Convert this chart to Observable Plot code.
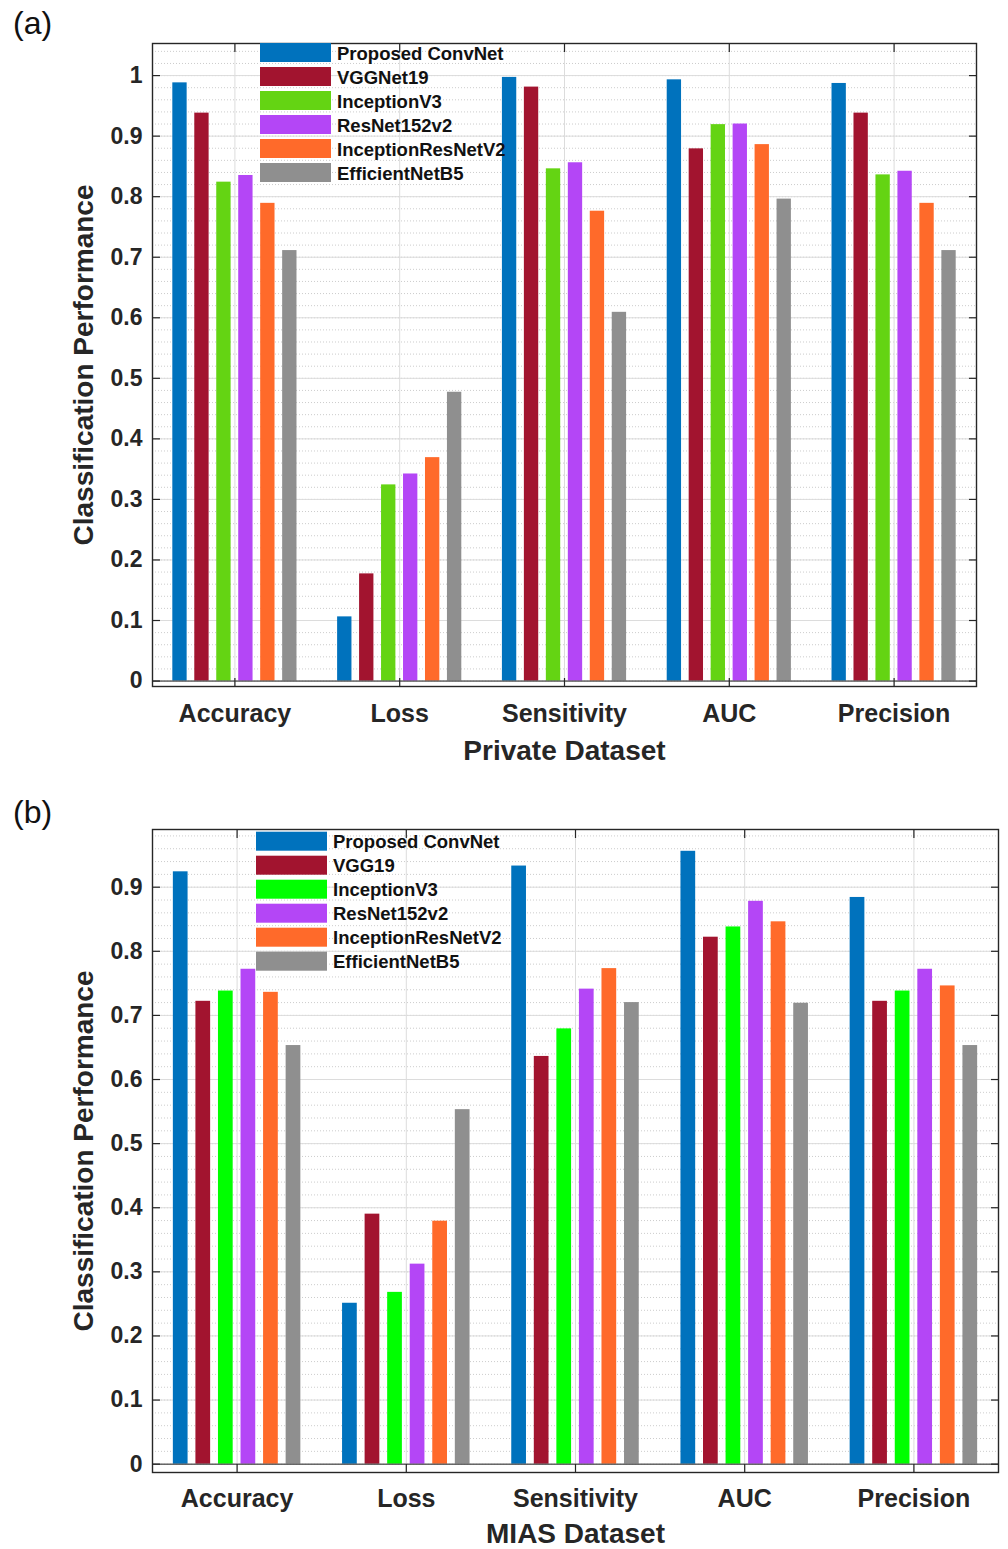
<!DOCTYPE html>
<html>
<head>
<meta charset="utf-8">
<script src="https://cdn.jsdelivr.net/npm/d3@7"></script>
<script src="https://cdn.jsdelivr.net/npm/@observablehq/plot@0.6"></script>
<style>
html, body { margin: 0; padding: 0; background: #fff; }
#wrap { position: relative; width: 1008px; height: 1549px; overflow: hidden; background: #fff; }
#wrap svg { position: absolute; left: 0; }
</style>
</head>
<body>
<div id="wrap"></div>
<script>
// ---------- data ----------
const metrics = ["Accuracy", "Loss", "Sensitivity", "AUC", "Precision"];

const modelsPrivate = ["Proposed ConvNet", "VGGNet19", "InceptionV3", "ResNet152v2", "InceptionResNetV2", "EfficientNetB5"];
const modelsMIAS = ["Proposed ConvNet", "VGG19", "InceptionV3", "ResNet152v2", "InceptionResNetV2", "EfficientNetB5"];

const colorsPrivate = ["#0072BD", "#A2142F", "#64D413", "#B446F6", "#FF6A2A", "#8F8F8F"];
const colorsMIAS = ["#0072BD", "#A2142F", "#00FF00", "#B446F6", "#FF6A2A", "#8F8F8F"];

// Private dataset (values in metric order: Accuracy, Loss, Sensitivity, AUC, Precision)
const privProposed  = [0.988, 0.106, 0.997, 0.993, 0.987];
const privVGG       = [0.938, 0.177, 0.981, 0.879, 0.938];
const privInception = [0.824, 0.324, 0.846, 0.919, 0.836];
const privResNet    = [0.835, 0.342, 0.856, 0.920, 0.842];
const privIncRes    = [0.789, 0.369, 0.776, 0.886, 0.789];
const privEff       = [0.711, 0.477, 0.609, 0.796, 0.711];

// MIAS dataset
const miasProposed  = [0.924, 0.251, 0.933, 0.956, 0.884];
const miasVGG       = [0.722, 0.390, 0.636, 0.822, 0.722];
const miasInception = [0.738, 0.268, 0.679, 0.838, 0.738];
const miasResNet    = [0.772, 0.312, 0.741, 0.878, 0.772];
const miasIncRes    = [0.736, 0.379, 0.773, 0.846, 0.746];
const miasEff       = [0.653, 0.553, 0.720, 0.719, 0.653];

// tick labels
const yTicksPrivate = [0, 0.1, 0.2, 0.3, 0.4, 0.5, 0.6, 0.7, 0.8, 0.9, 1];
const yTicksMIAS = [0, 0.1, 0.2, 0.3, 0.4, 0.5, 0.6, 0.7, 0.8, 0.9];

// ---------- drawing ----------
const FONT = "'Liberation Sans', Arial, Helvetica, sans-serif";
const INK = "#262626";
const fmtY = d => d === 0 ? "0" : d === 1 ? "1" : d.toFixed(1);

function makeChart(cfg) {
  const n = cfg.models.length;
  const rows = [];
  cfg.models.forEach((m, j) => cfg.series[j].forEach((v, i) => rows.push({metric: metrics[i], mi: i, model: m, j, value: v})));
  const step = 0.1333, bw = 0.087;
  const pos = metrics.map((m, i) => i + 1);
  const minor = d3.range(0, cfg.yDomain[1], 0.02);

  const svg = Plot.plot({
    width: 1008,
    height: cfg.height,
    marginLeft: 152,
    marginRight: cfg.marginRight,
    marginTop: cfg.marginTop,
    marginBottom: cfg.marginBottom,
    style: {fontFamily: FONT, fontWeight: "bold", color: INK, background: "white", overflow: "visible"},
    x: {domain: [0.5, metrics.length + 0.5], axis: null},
    y: {domain: cfg.yDomain, axis: null},
    color: {domain: cfg.models, range: cfg.colors},
    marks: [
      Plot.ruleY(minor, {stroke: "#bfbfbf", strokeWidth: 0.8, strokeDasharray: "1,2"}),
      Plot.ruleY(cfg.yTicks, {stroke: "#dcdcdc", strokeWidth: 1}),
      Plot.ruleX(pos, {stroke: "#dcdcdc", strokeWidth: 1}),
      Plot.rectY(rows, {
        x1: d => d.mi + 1 + (d.j - (n - 1) / 2) * step - bw / 2,
        x2: d => d.mi + 1 + (d.j - (n - 1) / 2) * step + bw / 2,
        y1: 0,
        y2: "value",
        fill: "model"
      }),
      Plot.ruleY([0], {stroke: INK, strokeWidth: 1}),
      Plot.frame({stroke: INK, strokeWidth: 1.4}),
      // inward ticks
      Plot.axisY(cfg.yTicks, {anchor: "left", tickSize: 8, dx: 8, tickFormat: () => "", label: null, strokeWidth: 1.2}),
      Plot.axisY(cfg.yTicks, {anchor: "right", tickSize: 8, dx: -8, tickFormat: () => "", label: null, strokeWidth: 1.2}),
      Plot.axisX(pos, {anchor: "bottom", tickSize: 8, dy: -8, tickFormat: () => "", label: null, strokeWidth: 1.2}),
      Plot.axisX(pos, {anchor: "top", tickSize: 8, dy: 8, tickFormat: () => "", label: null, strokeWidth: 1.2}),
      // tick labels
      Plot.axisY(cfg.yTicks, {anchor: "left", tickSize: 0, tickPadding: 10, tickFormat: fmtY, label: null, fontSize: 23, fontWeight: "bold"}),
      Plot.axisX(pos, {anchor: "bottom", tickSize: 0, tickPadding: cfg.xPad, tickFormat: i => metrics[i - 1], label: null, fontSize: 25, fontWeight: "bold"}),
      // titles
      Plot.text(["Classification Performance"], {frameAnchor: "left", textAnchor: "middle", rotate: -90, dx: -68, text: d => d, fontSize: 28, fontWeight: "bold", fill: INK}),
      Plot.text([cfg.xTitle], {frameAnchor: "bottom", textAnchor: "middle", lineAnchor: "top", dy: cfg.titleDy, text: d => d, fontSize: 28, fontWeight: "bold", fill: INK})
    ]
  });

  const s = d3.select(svg);
  s.style("top", cfg.top + "px");
  // legend (transparent, inside the axes)
  const g = s.append("g").attr("transform", `translate(${cfg.legendX},${cfg.legendY})`);
  cfg.models.forEach((m, j) => {
    g.append("rect").attr("x", 0).attr("y", j * 24).attr("width", 71).attr("height", 19).attr("fill", cfg.colors[j]);
    g.append("text").attr("x", 77).attr("y", j * 24 + cfg.legendBase)
      .attr("text-anchor", "start")
      .attr("font-size", 18.5).attr("font-weight", "bold").attr("font-family", FONT).attr("fill", "#111")
      .text(m);
  });
  // panel label
  s.append("text").attr("x", 13).attr("y", cfg.panelY).attr("text-anchor", "start")
    .attr("font-size", 32).attr("font-weight", "normal")
    .attr("font-family", FONT).attr("fill", "#111").text(cfg.panel);
  return svg;
}

const wrap = document.getElementById("wrap");
wrap.appendChild(makeChart({
  models: modelsPrivate, colors: colorsPrivate,
  series: [privProposed, privVGG, privInception, privResNet, privIncRes, privEff],
  yTicks: yTicksPrivate, yDomain: [-0.009, 1.053],
  height: 775, top: 0, marginTop: 43, marginBottom: 89, marginRight: 32,
  xPad: 18, titleDy: 54, xTitle: "Private Dataset",
  legendX: 260, legendY: 43, legendBase: 16.5, panel: "(a)", panelY: 34
}));
wrap.appendChild(makeChart({
  models: modelsMIAS, colors: colorsMIAS,
  series: [miasProposed, miasVGG, miasInception, miasResNet, miasIncRes, miasEff],
  yTicks: yTicksMIAS, yDomain: [-0.013, 0.99],
  height: 774, top: 775, marginTop: 54, marginBottom: 77, marginRight: 10,
  xPad: 17, titleDy: 51, xTitle: "MIAS Dataset",
  legendX: 256, legendY: 56.7, legendBase: 16.3, panel: "(b)", panelY: 48
}));
</script>
</body>
</html>
